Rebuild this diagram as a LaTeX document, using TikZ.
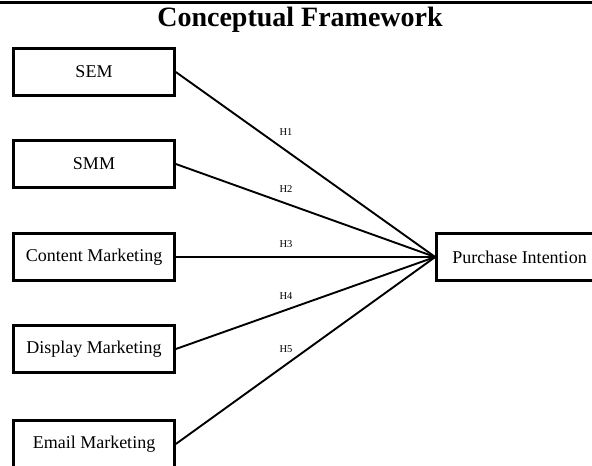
\documentclass[tikz,border=0pt]{standalone}
\usepackage{fontspec}
\setmainfont{Liberation Serif}
\usetikzlibrary{positioning}

\begin{document}
\begin{tikzpicture}[x=1pt,y=-1pt,
    factor/.style={draw, line width=2.6pt, minimum width=161pt,
      minimum height=47pt, inner sep=0pt,
      font=\fontsize{18}{20}\selectfont},
    link/.style={line width=1.9pt},
    hyp/.style={font=\fontsize{10.5}{12}\selectfont, pos=.425}]
  \useasboundingbox (0,0) rectangle (592,466);
  % rule and heading
  \draw[line width=2.4pt] (0,2.4) -- (592,2.4);
  \node[font=\bfseries\fontsize{28}{30}\selectfont] (title) at (300,20)
    {Conceptual Framework};
  % independent variables
  \node[factor] (sem) at (94,72) {SEM};
  \node[factor] (smm) at (94,164) {SMM};
  \node[factor] (content) at (94,257) {Content Marketing};
  \node[factor] (display) at (94,349) {Display Marketing};
  \node[factor] (email) at (94,444) {Email Marketing};
  % dependent variable
  \node[factor, minimum width=166pt] (pi) at (519.5,257) {Purchase Intention};
  % hypotheses
  \draw[link] (sem.east) -- (pi.west) node[hyp, above=11pt] {H1};
  \draw[link] (smm.east) -- (pi.west) node[hyp, above=7pt] {H2};
  \draw[link] (content.east) -- (pi.west) node[hyp, above=5pt] {H3};
  \draw[link] (display.east) -- (pi.west) node[hyp, above=6pt] {H4};
  \draw[link] (email.east) -- (pi.west) node[hyp, above=8pt] {H5};
\end{tikzpicture}
\end{document}
